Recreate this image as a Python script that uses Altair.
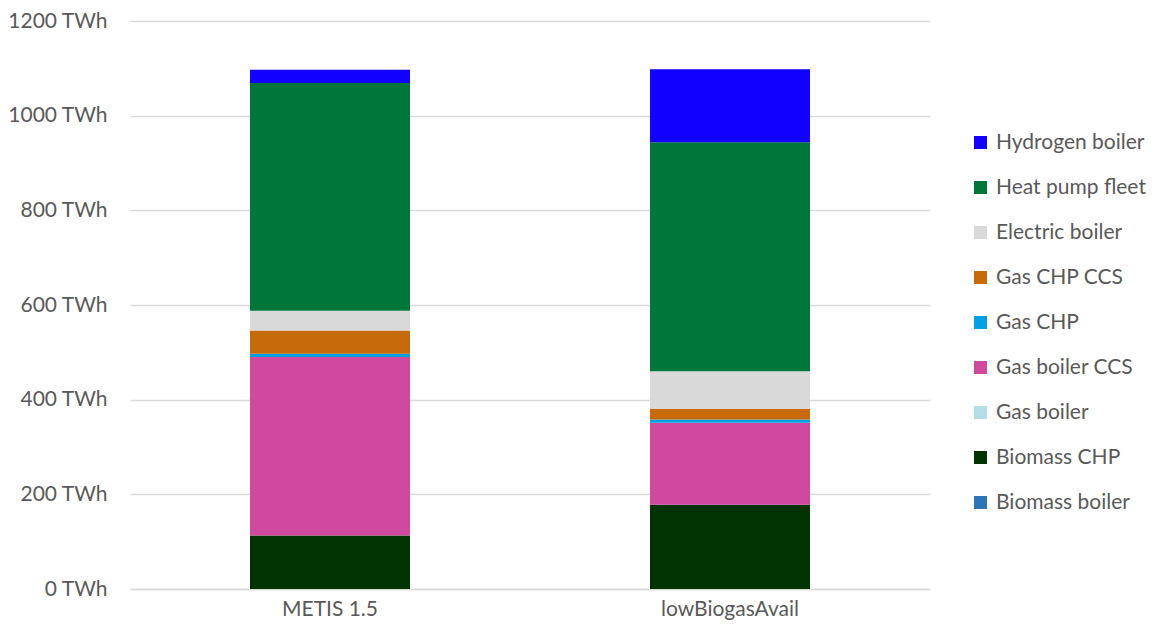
import altair as alt
import pandas as pd

scenarios = ["METIS 1.5", "lowBiogasAvail"]
# stack order, bottom to top
technologies = [
    "Biomass boiler",
    "Biomass CHP",
    "Gas boiler",
    "Gas boiler CCS",
    "Gas CHP",
    "Gas CHP CCS",
    "Electric boiler",
    "Heat pump fleet",
    "Hydrogen boiler",
]
colors_stack = [
    "#2E75B6",
    "#003300",
    "#B4DDE8",
    "#CF4A9E",
    "#00A0E3",
    "#C66A0B",
    "#D9D9D9",
    "#00763A",
    "#1100FF",
]
metis_values = [0, 113, 0, 377, 7, 49, 42, 481, 28]
lowbiogas_values = [0, 178, 0, 173, 7, 23, 79, 484, 154]
y_ticks = [0, 200, 400, 600, 800, 1000, 1200]

rows = []
for i, t in enumerate(technologies):
    rows.append({"Scenario": scenarios[0], "Technology": t, "Value": metis_values[i], "idx": i})
    rows.append({"Scenario": scenarios[1], "Technology": t, "Value": lowbiogas_values[i], "idx": i})
df = pd.DataFrame(rows)

legend_order = technologies[::-1]
legend_colors = colors_stack[::-1]

FS = 21

chart = (
    alt.Chart(df)
    .mark_bar()
    .encode(
        x=alt.X(
            "Scenario:N",
            sort=scenarios,
            scale=alt.Scale(paddingInner=0.6, paddingOuter=0.3),
            axis=alt.Axis(
                title=None,
                labelAngle=0,
                ticks=False,
                domainColor="#D9D9D9",
                domainWidth=1.5,
                labelFontSize=FS,
                labelColor="#595959",
                labelPadding=9,
            ),
        ),
        y=alt.Y(
            "Value:Q",
            stack="zero",
            scale=alt.Scale(domain=[0, 1200], nice=False),
            axis=alt.Axis(
                values=y_ticks,
                labelExpr="datum.value + ' TWh'",
                title=None,
                domain=False,
                ticks=False,
                gridColor="#D9D9D9",
                gridWidth=1.5,
                labelFontSize=FS,
                labelColor="#595959",
                labelPadding=23,
            ),
        ),
        color=alt.Color(
            "Technology:N",
            scale=alt.Scale(domain=legend_order, range=legend_colors),
            legend=alt.Legend(
                title=None,
                orient="none",
                legendX=840,
                legendY=111,
                symbolType="square",
                symbolSize=169,
                symbolStrokeWidth=0,
                labelFontSize=FS,
                labelColor="#595959",
                labelOffset=5,
                rowPadding=23,
                padding=0,
            ),
        ),
        order=alt.Order("idx:Q"),
        tooltip=["Scenario", "Technology", "Value"],
    )
    .properties(
        width=800,
        height=568,
        padding={"left": 122, "top": 13, "right": 219, "bottom": 35},
        autosize=alt.AutoSizeParams(type="none"),
    )
    .configure(font="Lato")
    .configure_view(stroke=None)
)

chart.save("out.html", embed_options={"renderer": "svg", "actions": False})
